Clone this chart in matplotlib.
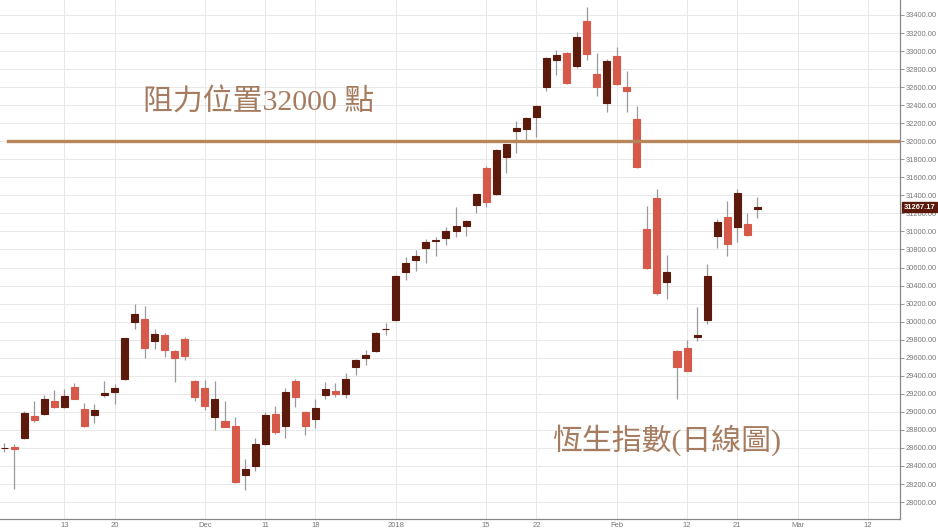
import matplotlib
matplotlib.use("Agg")
import matplotlib.pyplot as plt
import matplotlib.transforms as mtransforms
import numpy as np

# Hang Seng Index daily candles
dates = ['2017-11-03', '2017-11-06', '2017-11-07', '2017-11-08', '2017-11-09', '2017-11-10',
         '2017-11-13', '2017-11-14', '2017-11-15', '2017-11-16', '2017-11-17', '2017-11-20',
         '2017-11-21', '2017-11-22', '2017-11-23', '2017-11-24', '2017-11-27', '2017-11-28',
         '2017-11-29', '2017-11-30', '2017-12-01', '2017-12-04', '2017-12-05', '2017-12-06',
         '2017-12-07', '2017-12-08', '2017-12-11', '2017-12-12', '2017-12-13', '2017-12-14',
         '2017-12-15', '2017-12-18', '2017-12-19', '2017-12-20', '2017-12-21', '2017-12-22',
         '2017-12-27', '2017-12-28', '2017-12-29', '2018-01-02', '2018-01-03', '2018-01-04',
         '2018-01-05', '2018-01-08', '2018-01-09', '2018-01-10', '2018-01-11', '2018-01-12',
         '2018-01-15', '2018-01-16', '2018-01-17', '2018-01-18', '2018-01-19', '2018-01-22',
         '2018-01-23', '2018-01-24', '2018-01-25', '2018-01-26', '2018-01-29', '2018-01-30',
         '2018-01-31', '2018-02-01', '2018-02-02', '2018-02-05', '2018-02-06', '2018-02-07',
         '2018-02-08', '2018-02-09', '2018-02-12', '2018-02-13', '2018-02-14', '2018-02-15',
         '2018-02-20', '2018-02-21', '2018-02-22', '2018-02-23']
# trading days after the last candle (empty space on the right)
future_days = ['2018-02-26', '2018-02-27', '2018-02-28', '2018-03-01', '2018-03-02',
               '2018-03-05', '2018-03-06', '2018-03-07', '2018-03-08', '2018-03-09',
               '2018-03-12', '2018-03-13', '2018-03-14']

opens = [28600, 28610, 28714, 28954, 28976, 29124, 29051, 29272, 29028, 28962, 29190, 29224,
         29361, 30000, 30026, 29786, 29852, 29678, 29808, 29339, 29262, 28946, 28895, 28847,
         28301, 28400, 28641, 28973, 28847, 29342, 28999, 28917, 29187, 29231, 29198, 29494,
         29594, 29678, 29915, 30019, 30554, 30684, 30814, 30898, 30931, 31009, 31061, 31294,
         31700, 31415, 31822, 32117, 32136, 32266, 32598, 32901, 32975, 32835, 33333, 32746,
         32428, 32945, 32605, 32244, 31028, 31374, 30443, 29678, 29712, 29834, 30019, 30953,
         31164, 31046, 31083, 31250]
highs = [28650, 28640, 29010, 29121, 29187, 29243, 29257, 29317, 29095, 29087, 29346, 29306,
         29816, 30196, 30174, 29915, 29878, 29690, 29827, 29353, 29353, 29346, 29121, 28940,
         28475, 28707, 28995, 29065, 29268, 29361, 29010, 29139, 29335, 29317, 29428, 29590,
         29686, 29880, 29989, 30518, 30721, 30795, 30913, 30943, 31053, 31268, 31130, 31420,
         31729, 31910, 31975, 32229, 32265, 32400, 32935, 33012, 32990, 33215, 33485, 32982,
         32912, 33049, 32779, 32391, 31283, 31468, 30739, 29690, 29797, 30167, 30639, 31138,
         31342, 31471, 31202, 31387]
lows = [28550, 28140, 28703, 28891, 28965, 29040, 29040, 29139, 28830, 28873, 29162, 29087,
        29350, 29915, 29594, 29694, 29612, 29335, 29575, 29124, 29021, 28799, 28830, 28210,
        28134, 28348, 28630, 28755, 28707, 29050, 28744, 28826, 29143, 29162, 29151, 29409,
        29520, 29660, 29852, 30010, 30462, 30566, 30647, 30728, 30850, 30935, 30950, 31202,
        31268, 31400, 31644, 31873, 31996, 32051, 32561, 32735, 32640, 32809, 32901, 32502,
        32328, 32620, 32328, 31700, 30580, 30296, 30248, 29139, 29450, 29789, 29974, 30820,
        30728, 30887, 30950, 31153]
closes = [28603, 28590, 28991, 28910, 29139, 29057, 29176, 29146, 28843, 29021, 29206, 29262,
          29816, 30082, 29705, 29863, 29686, 29594, 29620, 29168, 29065, 29139, 28836, 28219,
          28363, 28644, 28965, 28781, 29217, 29162, 28843, 29046, 29254, 29195, 29361, 29575,
          29631, 29871, 29919, 30506, 30654, 30732, 30888, 30900, 31002, 31064, 31116, 31412,
          31330, 31903, 31966, 32147, 32255, 32391, 32927, 32957, 32650, 33153, 32968, 32598,
          32889, 32635, 32561, 31709, 30592, 30314, 30551, 29501, 29457, 29852, 30510, 31109,
          30861, 31423, 30957, 31267.17]

tick_dates = ['2017-11-13', '2017-11-20', '2017-12-01', '2017-12-11', '2017-12-18', '2018-01-02',
              '2018-01-15', '2018-01-22', '2018-02-01', '2018-02-12', '2018-02-21', '2018-03-01',
              '2018-03-12']
tick_labels = ['13', '20', 'Dec', '11', '18', '2018', '15', '22', 'Feb', '12', '21', 'Mar', '12']

resistance = 32000
last_price = closes[-1]
y_ticks = list(range(28000, 33401, 200))

up_color = '#5b1a0c'
down_color = '#d6594a'
wick_color = '#9a9a9a'
note_color = '#a67c60'
line_color = '#b7855a'

fig = plt.figure(figsize=(9.38, 5.30), dpi=100)
ax = fig.add_axes([0.0, 11 / 530, 900 / 938, 1 - 11 / 530])

all_days = dates + future_days
x = np.arange(len(dates))
o = np.array(opens, dtype=float)
c = np.array(closes, dtype=float)
colors = [up_color if cc >= oo else down_color for oo, cc in zip(o, c)]

# wicks
ax.vlines(x, lows, highs, color=wick_color, linewidth=0.9, zorder=2)
# bodies
bottoms = np.minimum(o, c)
heights = np.abs(c - o)
ax.bar(x, heights, width=0.7, bottom=bottoms, color=colors, edgecolor=colors,
       linewidth=0.8, zorder=3)

# resistance line
ax.plot([0.4, 89.0], [resistance, resistance], color=line_color, linewidth=2.4, zorder=4)

txt_font = ['Liberation Serif', 'Noto Sans CJK TC', 'DejaVu Sans']
ax.text(13.8, 32440, '阻力位置32000 點', fontsize=21.5, color=note_color,
        family=txt_font, va='center', ha='left', zorder=5)
ax.text(54.6, 28690, '恆生指數(日線圖)', fontsize=21.5, color=note_color,
        family=txt_font, va='center', ha='left', zorder=5)

ax.set_xlim(-0.4, 89.2)
ax.set_ylim(27812, 33566)

tick_pos = [all_days.index(d) for d in tick_dates]
ax.set_xticks(tick_pos)
ax.set_xticklabels(tick_labels, fontsize=5.5, color='#777777', family='Liberation Sans')
ax.set_yticks(y_ticks)
ax.set_yticklabels(['%.2f' % v for v in y_ticks], fontsize=5.4, color='#777777',
                   family='Liberation Sans')
ax.yaxis.tick_right()
ax.tick_params(axis='y', length=3, width=0.6, color='#888888', pad=1)
ax.tick_params(axis='x', length=0, pad=2)

ax.grid(True, color='#e8e8e8', linewidth=0.7, zorder=0)
ax.set_axisbelow(True)
for side in ['left', 'top']:
    ax.spines[side].set_visible(False)
for side in ['right', 'bottom']:
    ax.spines[side].set_color('#888888')
    ax.spines[side].set_linewidth(0.9)

# last price tag on the price axis
trans = mtransforms.blended_transform_factory(ax.transAxes, ax.transData)
ax.text(1.004, last_price, '%.2f' % last_price, transform=trans, fontsize=5.4,
        color='white', family='Liberation Sans', fontweight='bold', va='center', ha='left',
        bbox=dict(boxstyle='square,pad=0.2', facecolor=up_color, edgecolor=up_color),
        clip_on=False, zorder=6)

fig.savefig('out.png', dpi=100, facecolor='white')
